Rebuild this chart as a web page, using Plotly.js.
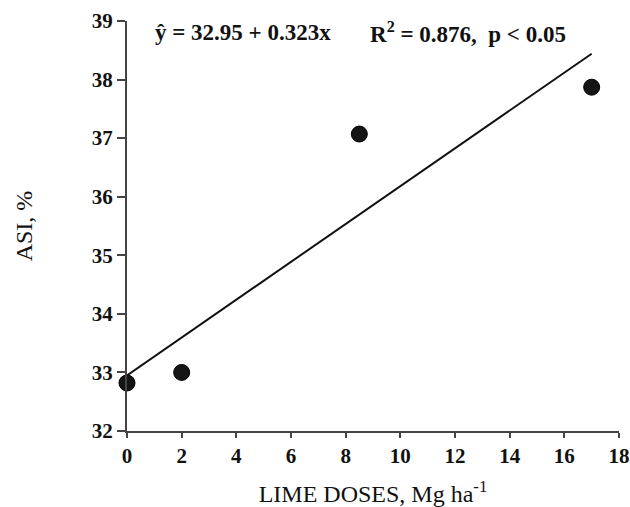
<!DOCTYPE html>
<html>
<head>
<meta charset="utf-8">
<script src="https://cdn.plot.ly/plotly-3.0.1.min.js"></script>
<style>
  html, body { margin: 0; padding: 0; background: #fff; }
  #chart { width: 630px; height: 507px; }
</style>
</head>
<body>
<div id="chart"></div>
<script>
// Lime doses (Mg ha-1) and measured ASI (%)
const limeDoses = [0, 2, 8.5, 17];
const asiValues = [32.82, 33.0, 37.07, 37.87];

// Fitted linear regression: y = a + b x
const fitIntercept = 32.95;
const fitSlope = 0.323;
const fitX = [0, 17];
const fitY = fitX.map(x => fitIntercept + fitSlope * x);

const equationText = '\u0177 = 32.95 + 0.323x';
const statsText = 'R<sup>2</sup> = 0.876,  p < 0.05';

const xTicks = [0, 2, 4, 6, 8, 10, 12, 14, 16, 18];
const yTicks = [32, 33, 34, 35, 36, 37, 38, 39];

const serif = '"Liberation Serif", "Times New Roman", serif';

const traces = [
  {
    x: fitX, y: fitY, type: 'scatter', mode: 'lines',
    line: { color: '#111', width: 2 },
    hoverinfo: 'skip', cliponaxis: false
  },
  {
    x: limeDoses, y: asiValues, type: 'scatter', mode: 'markers',
    marker: { color: '#151515', size: 16, line: { color: '#000', width: 1 } },
    cliponaxis: false
  }
];

const axisCommon = {
  showgrid: false, zeroline: false,
  showline: true, linecolor: '#444', linewidth: 2,
  ticks: 'outside', tickcolor: '#444', tickwidth: 2,
  tickfont: { family: serif, size: 21, color: '#111', weight: 'bold' },
  fixedrange: true
};

const layout = {
  width: 630, height: 507,
  margin: { l: 127, r: 11, t: 21, b: 76 },
  paper_bgcolor: '#fff', plot_bgcolor: '#fff',
  showlegend: false,
  font: { family: serif, color: '#111' },
  xaxis: Object.assign({}, axisCommon, {
    range: [0, 18], tickvals: xTicks, ticklen: 5,
    title: { text: 'LIME DOSES, Mg ha<sup>-1</sup>', font: { family: serif, size: 24, color: '#111' }, standoff: 18 }
  }),
  yaxis: Object.assign({}, axisCommon, {
    range: [32, 39], tickvals: yTicks, ticklen: 8,
    title: { text: 'ASI, %', font: { family: serif, size: 24, color: '#111' }, standoff: 52 }
  }),
  annotations: [
    {
      x: 0.95, y: 38.8, xref: 'x', yref: 'y', xanchor: 'left', yanchor: 'middle',
      text: equationText, showarrow: false,
      font: { family: serif, size: 23, color: '#111', weight: 'bold' }
    },
    {
      x: 8.8, y: 38.8, xref: 'x', yref: 'y', xanchor: 'left', yanchor: 'middle',
      text: statsText, showarrow: false,
      font: { family: serif, size: 23, color: '#111', weight: 'bold' }
    }
  ]
};

Plotly.newPlot('chart', traces, layout, { displayModeBar: false, staticPlot: true });
</script>
</body>
</html>
